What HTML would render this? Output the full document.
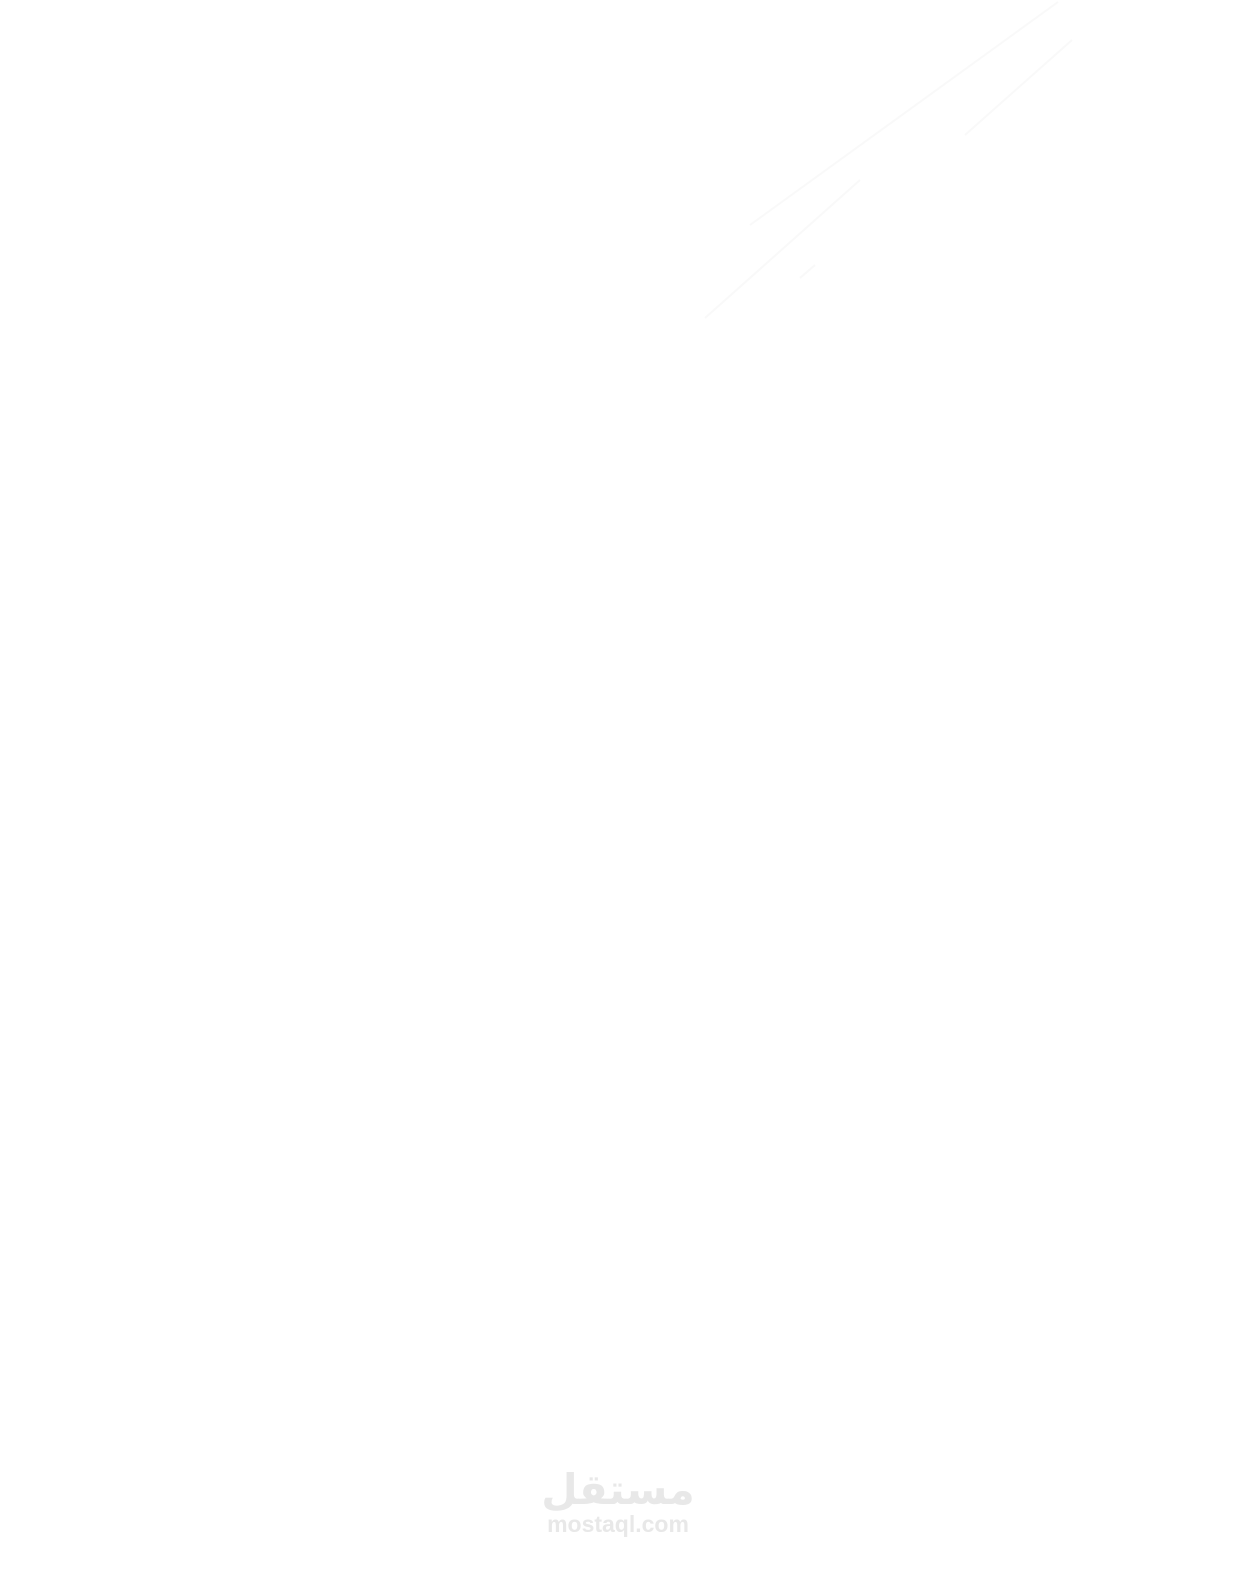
<!DOCTYPE html>
<html><head><meta charset="utf-8"><style>
html,body{margin:0;padding:0;background:#fff;width:1236px;height:1570px;overflow:hidden;position:relative}
.ar{position:absolute;left:0;width:1236px;top:1462px;text-align:center;font-family:"DejaVu Sans",sans-serif;font-weight:bold;font-size:42px;color:#e8e8e8;line-height:56px}
.en{position:absolute;left:0;width:1236px;top:1510px;text-align:center;font-family:"Liberation Sans",sans-serif;font-weight:bold;font-size:23px;color:#e8e8e8;line-height:28px}
svg{position:absolute;left:0;top:0}
</style></head><body>
<svg width="1236" height="1570">
<g stroke="#f9f9f9" stroke-width="2" fill="none">
<line x1="1058" y1="2" x2="750" y2="225"/>
<line x1="1072" y1="40" x2="965" y2="135"/>
<line x1="860" y1="180" x2="705" y2="318"/>
<line x1="815" y1="265" x2="800" y2="278"/>
</g>
</svg>
<div class="ar">مستقل</div>
<div class="en">mostaql.com</div>
</body></html>
